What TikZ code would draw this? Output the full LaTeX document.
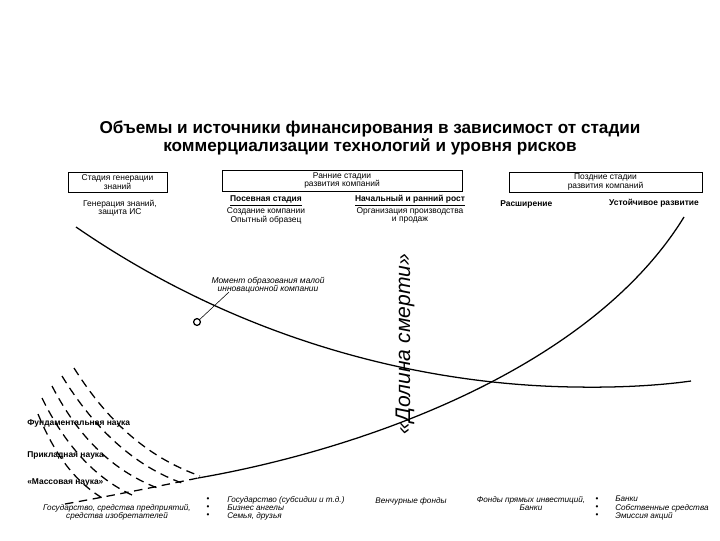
\documentclass[tikz,border=0pt]{standalone}
\usepackage{fontspec}
\setmainfont{Liberation Sans}
\usetikzlibrary{positioning}

\begin{document}
\begin{tikzpicture}[x=0.025cm,y=-0.025cm,
  stagebox/.style={draw,thin,align=center,minimum height=0.5cm,inner sep=1pt,
    font=\fontsize{6}{6.2}\selectfont},
  stagetext/.style={align=center,inner sep=0pt,font=\fontsize{6}{5.6}\selectfont},
  stagehead/.style={align=center,inner sep=0pt,font=\fontsize{6}{5.8}\selectfont\bfseries},
  source/.style={align=center,inner sep=0pt,font=\fontsize{5.8}{5.7}\selectfont\itshape},
  curve/.style={line width=0.9pt},
  dashcurve/.style={line width=0.9pt,dash pattern=on 6pt off 4pt}
]
\fill[white] (0,0) rectangle (720,540);
\useasboundingbox (0,0) rectangle (720,540);

% title
\node[align=center,font=\fontsize{12.2}{11.3}\selectfont\bfseries] (title) at (370,138)
  {Объемы и источники финансирования в зависимост от стадии\\
   коммерциализации технологий и уровня рисков};

% stages
\node[stagebox,minimum width=2.475cm] (know) at (117.5,182) {Стадия генерации\\знаний};
\node[stagebox,minimum width=6cm,minimum height=0.525cm] (early) at (342,180.5) {Ранние стадии\\развития компаний};
\node[stagebox,minimum width=4.825cm] (late) at (605.5,182) {Поздние стадии\\развития компаний};

\node[stagetext] (gen) at (120,208) {Генерация знаний,\\защита ИС};
\node[stagetext] (seed) at (266,210) {\underline{\textbf{Посевная стадия}}\\Создание компании\\Опытный образец};
\node[stagetext] (start) at (410,209) {\underline{\textbf{Начальный и ранний рост}}\\Организация производства\\и продаж};
\node[stagehead,anchor=west] (expand) at (500,204) {Расширение};
\node[stagehead] (steady) at (654,203) {Устойчивое развитие};

% curves
\draw[curve] (76,227) .. controls (240,340) and (420,385) .. (575,387)
  .. controls (630,388) and (670,384) .. (691,381);
\draw[curve] (198,478) .. controls (360,450) and (590,370) .. (684,217);
\draw[dashcurve] (65,504) .. controls (110,496) and (160,486) .. (198,478);

% science
\draw[dashcurve] (74,368) .. controls (110,425) and (150,458) .. (200,476);
\draw[dashcurve] (62,376) .. controls (95,430) and (135,466) .. (182,483);
\draw[dashcurve] (52,386) .. controls (80,440) and (115,472) .. (160,489);
\draw[dashcurve] (42,398) .. controls (65,445) and (95,478) .. (132,495);
\draw[dashcurve] (38,414) .. controls (55,455) and (75,482) .. (104,499);

\node[stagehead,anchor=west] (fund) at (27,423) {Фундаментальная наука};
\node[stagehead,anchor=west] (appl) at (27,455) {Прикладная наука};
\node[stagehead,anchor=west] (mass) at (27,482) {«Массовая наука»};

% moment
\node[align=center,inner sep=0pt,font=\fontsize{6}{6}\selectfont\itshape] (moment) at (268,285)
  {Момент образования малой\\инновационной компании};
\node[draw,circle,line width=0.9pt,inner sep=0pt,minimum size=0.17cm] (circ) at (197,322) {};
\coordinate (tip) at (229,292);
\draw[thin] (tip) -- (circ);

\node[rotate=90,font=\fontsize{15}{15}\selectfont\itshape] (valley) at (405,344) {«Долина смерти»};

% sources
\node[source] (state) at (117,512) {Государство, средства предприятий,\\средства изобретателей};
\node[inner sep=0pt,align=center,font=\fontsize{5.8}{5.7}\selectfont] (dots1) at (208,508) {•\\•\\•};
\node[source,align=left,anchor=west] (angels) at (227,508)
  {Государство (субсидии и т.д.)\\Бизнес ангелы\\Семья, друзья};
\node[source] (venture) at (411,501) {Венчурные фонды};
\node[source] (funds) at (531,504) {Фонды прямых инвестиций,\\Банки};
\node[inner sep=0pt,align=center,font=\fontsize{5.8}{5.7}\selectfont] (dots2) at (597,508) {•\\•\\•};
\node[source,align=left,anchor=west] (banks) at (615,508)
  {Банки\\Собственные средства\\Эмиссия акций};
\end{tikzpicture}
\end{document}
